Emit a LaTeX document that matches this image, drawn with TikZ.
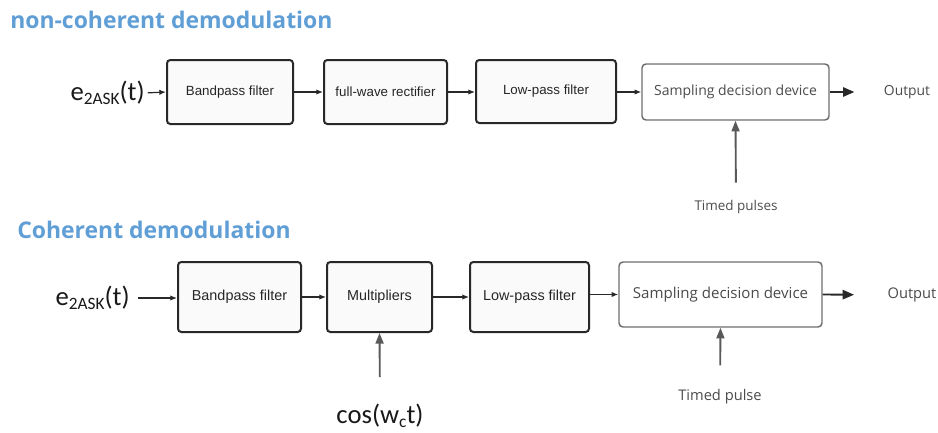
\documentclass[tikz,border=0pt]{standalone}
\usepackage{fontspec}
\setmainfont{Liberation Sans}
\newfontfamily\uifont{Open Sans}
\newfontfamily\calfont{Carlito}
\usetikzlibrary{arrows.meta}
\definecolor{titleblue}{RGB}{96,158,214}
\definecolor{boxline}{RGB}{40,40,40}
\definecolor{devline}{RGB}{110,110,110}
\definecolor{txtgray}{RGB}{75,75,75}
\tikzset{
  filterbox/.style={draw=boxline, line width=1.5pt, rounded corners=2.5pt, fill=white!98!black,
    align=center, inner sep=0pt, text=black!85},
  devbox/.style={draw=devline, line width=1.1pt, rounded corners=3pt, fill=white,
    align=center, inner sep=0pt, text=txtgray},
  smallarrow/.style={draw=boxline, line width=0.9pt, -{Latex[length=5pt,width=4pt]}},
  bigarrow/.style={draw=boxline, line width=1.4pt, -{Triangle[length=8.5pt,width=7pt]}},
  pulsearrow/.style={draw=black!65, line width=1.4pt, -{Triangle[length=8pt,width=6pt]}},
  heading/.style={text=titleblue, font=\uifont\bfseries\fontsize{17.2}{20}\selectfont, anchor=west, inner sep=0pt},
  sigtext/.style={font=\calfont\fontsize{20}{24}\selectfont, inner sep=0pt, text=black!90},
  uitext/.style={font=\uifont\fontsize{10.4}{12}\selectfont, inner sep=0pt, text=txtgray},
}
\begin{document}
\begin{tikzpicture}[x=0.75pt,y=-0.75pt]
\useasboundingbox (0,0) rectangle (938,432);

% ---- non-coherent demodulation ----
\node[heading] (t1) at (10,20) {non-coherent demodulation};

\node[sigtext, anchor=east] (in1) at (145,93) {e\raisebox{-0.35ex}{\fontsize{13}{15}\selectfont 2ASK}(t)};
\node[filterbox, minimum width=94.5pt, minimum height=48pt, font=\fontsize{10}{12}\selectfont] (a1) at (230,92) {Bandpass filter};
\node[filterbox, minimum width=92.25pt, minimum height=48pt, font=\fontsize{10}{12}\selectfont] (a2) at (385.5,92) {full-wave rectifier};
\node[filterbox, minimum width=105pt, minimum height=47.25pt, font=\fontsize{10}{12}\selectfont] (a3) at (546,91.5) {Low-pass filter};
\node[devbox, minimum width=140.25pt, minimum height=42pt, font=\uifont\fontsize{10.5}{12}\selectfont] (a4) at (735.5,92) {Sampling decision device};
\node[uitext] (out1) at (907,92) {Output};
\node[uitext, font=\uifont\fontsize{10.1}{12}\selectfont] (tp1) at (736,207) {Timed pulses};

\draw[smallarrow, shorten <=2pt] (in1.east) -- (a1.west);
\draw[smallarrow] (a1) -- (a2);
\draw[smallarrow] (a2.east) -- (a2.east -| a3.west);
\draw[smallarrow] (a3.east |- a4) -- (a4.west);
\draw[bigarrow, shorten >=22pt] (a4.east) -- (out1.west);
\draw[pulsearrow, shorten <=13pt] (tp1.north) -- (a4.south);

% ---- coherent demodulation ----
\node[heading] (t2) at (17,230) {Coherent demodulation};

\node[sigtext, anchor=east] (in2) at (130,298) {e\raisebox{-0.35ex}{\fontsize{13}{15}\selectfont 2ASK}(t)};
\node[filterbox, minimum width=92.25pt, minimum height=52.5pt, font=\fontsize{10.8}{13}\selectfont] (b1) at (239.5,297) {Bandpass filter};
\node[filterbox, minimum width=78.75pt, minimum height=52.5pt, font=\fontsize{10.8}{13}\selectfont] (b2) at (379.5,297) {Multipliers};
\node[filterbox, minimum width=89.25pt, minimum height=52.5pt, font=\fontsize{10.8}{13}\selectfont] (b3) at (529.5,297) {Low-pass filter};
\node[devbox, minimum width=152.25pt, minimum height=48.75pt, font=\uifont\fontsize{11.3}{13}\selectfont] (b4) at (720.5,294.5) {Sampling decision device};
\node[uitext, font=\uifont\fontsize{11}{13}\selectfont] (out2) at (912,295) {Output};
\node[uitext, font=\uifont\fontsize{11}{13}\selectfont] (tp2) at (720,397) {Timed pulse};
\node[sigtext] (cw) at (380,416) {cos(w\raisebox{-0.35ex}{\fontsize{13}{15}\selectfont c}t)};

\draw[smallarrow, shorten <=6pt] (in2.east) -- (in2.east -| b1.west);
\draw[smallarrow] (b1) -- (b2);
\draw[smallarrow] (b2) -- (b3);
\draw[smallarrow] (b3.east |- b4) -- (b4.west);
\draw[bigarrow, shorten >=25pt] (b4.east) -- (out2.west);
\draw[pulsearrow, shorten <=18pt] (tp2.north) -- (b4.south);
\draw[pulsearrow, shorten <=20pt] (cw.north) -- (b2.south);
\end{tikzpicture}
\end{document}
